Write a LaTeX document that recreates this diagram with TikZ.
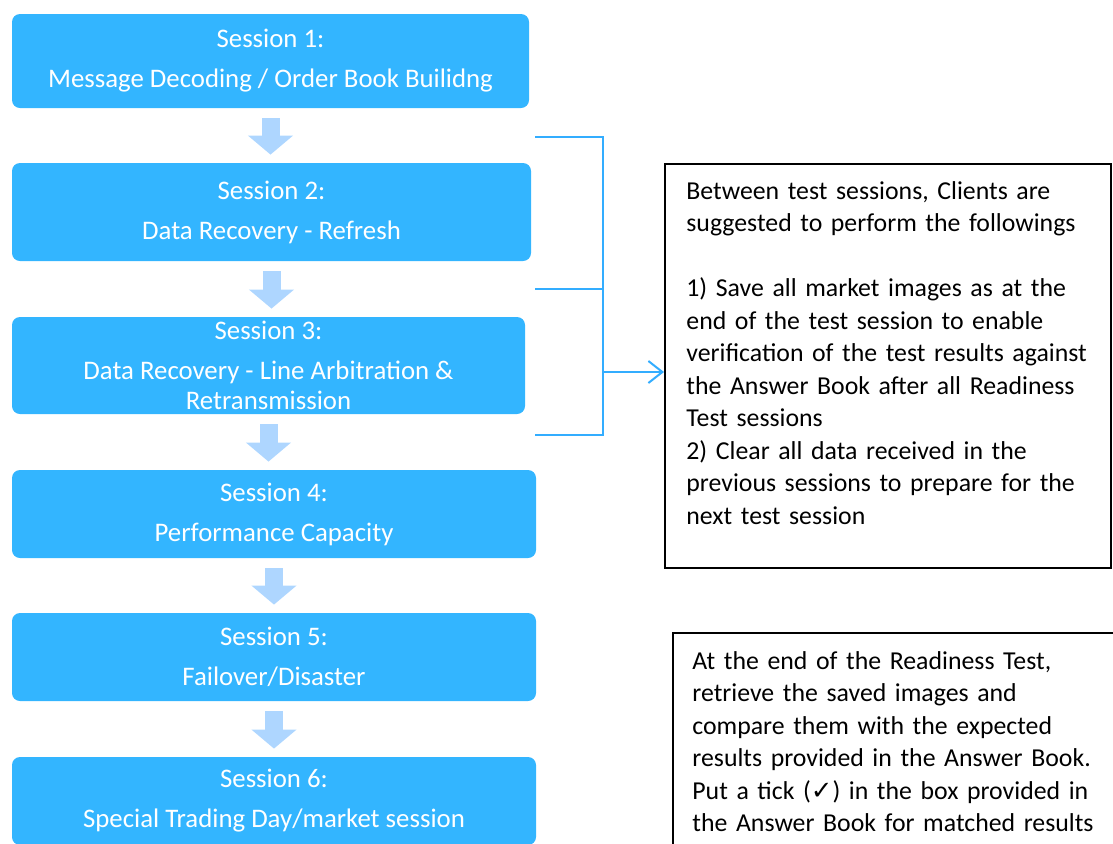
\documentclass[tikz,border=0pt]{standalone}
\usepackage{fontspec}
\setmainfont{Carlito}
\newfontfamily\symfont{DejaVu Sans}
\usetikzlibrary{arrows.meta}

\definecolor{sessblue}{RGB}{51,181,255}
\definecolor{flowblue}{RGB}{174,214,255}
\definecolor{linkblue}{RGB}{51,173,255}

\begin{document}
\begin{tikzpicture}[x=0.5pt, y=-0.5pt,
		sess/.style={fill=sessblue, text=white, rounded corners=4pt, align=center,
			inner sep=0pt, font=\fontsize{13.4}{15}\selectfont},
		flow/.style={draw=flowblue, line width=9pt, -{Triangle[length=9.5pt, width=22pt]},
			shorten <=5pt, shorten >=4pt},
		note/.style={draw=black, line width=0.8pt, inner sep=0pt, anchor=north west},
		notetext/.style={anchor=base west, inner sep=0pt, text width=215pt, align=left,
			font=\fontsize{12.9}{16.25}\selectfont},
		link/.style={draw=linkblue, line width=1pt}]

					\clip (0,0) rectangle (1113,843);

					\node[sess, minimum width=258.5pt, minimum height=47pt] (sess1) at (270.5, 61)
						{Session 1:\\[5pt]Message Decoding / Order Book Builidng};
					\node[sess, minimum width=259.5pt, minimum height=49pt] (sess2) at (271.5, 212)
						{Session 2:\\[5pt]Data Recovery - Refresh};
					\node[sess, minimum width=256.5pt, minimum height=48.5pt] (sess3) at (268.5, 365.5)
						{Session 3:\\[5pt]Data Recovery - Line Arbitration \&\\Retransmission};
					\node[sess, minimum width=262pt, minimum height=44pt] (sess4) at (274, 514)
						{Session 4:\\[5pt]Performance Capacity};
					\node[sess, minimum width=262pt, minimum height=44pt] (sess5) at (274, 657)
						{Session 5:\\[5pt]Failover/Disaster};
					\node[sess, minimum width=262pt, minimum height=44pt] (sess6) at (274, 801)
						{Session 6:\\[5pt]Special Trading Day/market session};

					\node[note, minimum width=223pt, minimum height=202pt] (note1) at (664, 163) {};
					\node[notetext] (text1) at (686, 199)
						{Between test sessions, Clients are\\
						suggested to perform the followings\\[16.25pt]
						1) Save all market images as at the\\
						end of the test session to enable\\
						verification of the test results against\\
						the Answer Book after all Readiness\\
						Test sessions\\
						2) Clear all data received in the\\
						previous sessions to prepare for the\\
						next test session};

					\node[note, minimum width=300pt, minimum height=200pt] (note2) at (672, 632) {};
					\node[notetext] (text2) at (692, 669)
						{At the end of the Readiness Test,\\
						retrieve the saved images and\\
						compare them with the expected\\
						results provided in the Answer Book.\\
						Put a tick ({\symfont ✓}) in the box provided in\\
						the Answer Book for matched results};

					\coordinate (brtop) at (535, 137);
					\coordinate (brmid) at (535, 289);
					\coordinate (brbot) at (535, 435);
					\coordinate (brjoin) at (603, 372);


					\draw[flow] (sess1.south) to (sess1.south |- sess2.north);
					\draw[flow] (sess2.south) to (sess2.south |- sess3.north);
					\draw[flow] (sess3.south) to (sess3.south |- sess4.north);
					\draw[flow] (sess4.south) to (sess4.south |- sess5.north);
					\draw[flow] (sess5.south) to (sess5.south |- sess6.north);

					\draw[link] (brtop) -| (brjoin |- brbot) -- (brbot);
					\draw[link] (brmid) -- (brmid -| brjoin);
					\draw[link, -{Straight Barb[length=7pt, width=11pt]}] (brjoin) -- (brjoin -| note1.west);
				\end{tikzpicture}
\end{document}
